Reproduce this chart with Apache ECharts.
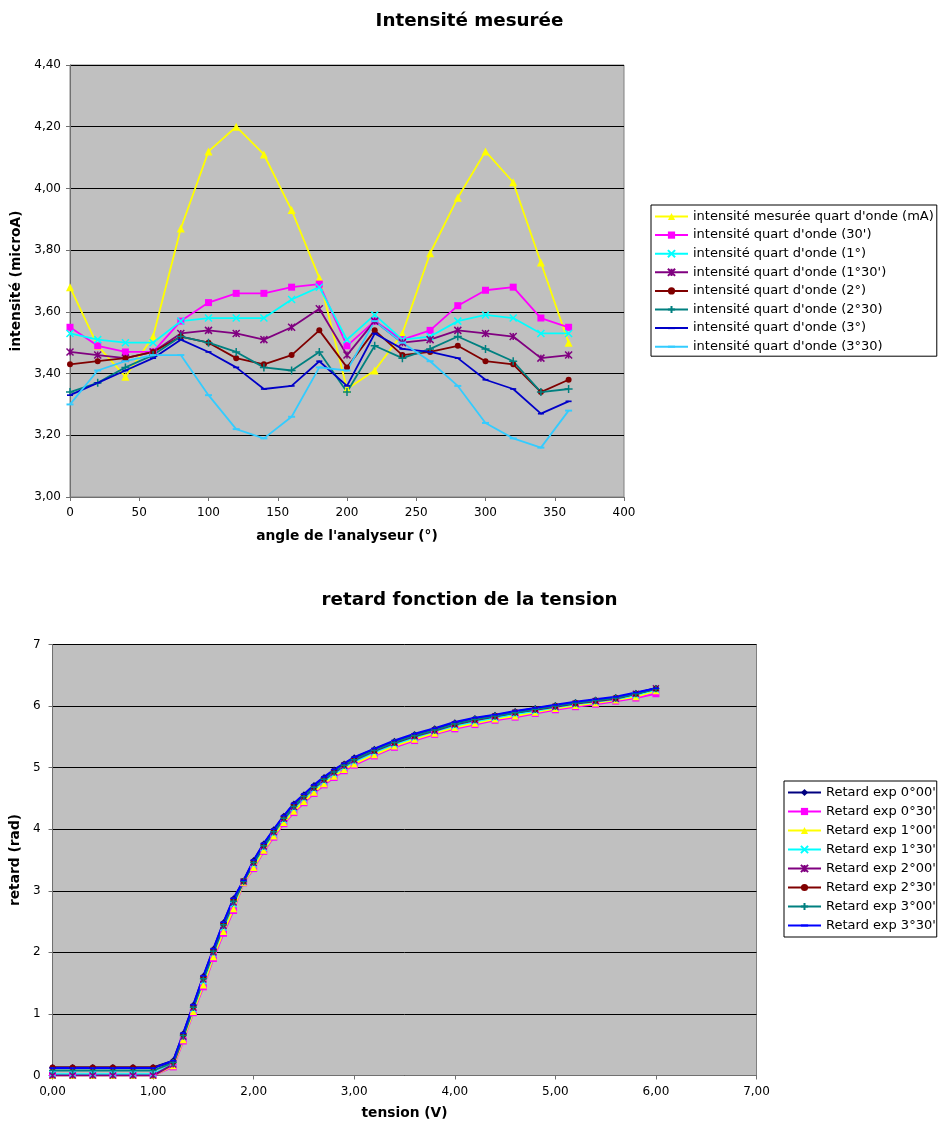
<!DOCTYPE html>
<html><head><meta charset="utf-8">
<script src="https://cdn.jsdelivr.net/npm/echarts@6/dist/echarts.min.js"></script>
<style>html,body{margin:0;padding:0;background:#fff}#c{width:939px;height:1126px}</style>
</head><body><div id="c"></div>
<script>
// ---------- Chart 1 : Intensité mesurée ----------
const angles = [0,20,40,60,80,100,120,140,160,180,200,220,240,260,280,300,320,340,360];
const iMesuree = [3.68,3.49,3.39,3.52,3.87,4.12,4.20,4.11,3.93,3.71,3.35,3.41,3.53,3.79,3.97,4.12,4.02,3.76,3.50];
const i30  = [3.55,3.49,3.47,3.47,3.57,3.63,3.66,3.66,3.68,3.69,3.49,3.57,3.51,3.54,3.62,3.67,3.68,3.58,3.55];
const i1   = [3.53,3.51,3.50,3.50,3.57,3.58,3.58,3.58,3.64,3.68,3.51,3.59,3.51,3.52,3.57,3.59,3.58,3.53,3.53];
const i130 = [3.47,3.46,3.45,3.47,3.53,3.54,3.53,3.51,3.55,3.61,3.46,3.57,3.50,3.51,3.54,3.53,3.52,3.45,3.46];
const i2   = [3.43,3.44,3.45,3.47,3.52,3.50,3.45,3.43,3.46,3.54,3.42,3.54,3.46,3.47,3.49,3.44,3.43,3.34,3.38];
const i230 = [3.34,3.37,3.42,3.46,3.52,3.50,3.47,3.42,3.41,3.47,3.34,3.49,3.45,3.48,3.52,3.48,3.44,3.34,3.35];
const i3   = [3.33,3.37,3.41,3.45,3.51,3.47,3.42,3.35,3.36,3.44,3.36,3.53,3.48,3.47,3.45,3.38,3.35,3.27,3.31];
const i330 = [3.30,3.41,3.44,3.46,3.46,3.33,3.22,3.19,3.26,3.42,3.41,3.57,3.50,3.44,3.36,3.24,3.19,3.16,3.28];
const topNames = ["intensité mesurée quart d'onde (mA)","intensité quart d'onde (30')","intensité quart d'onde (1°)","intensité quart d'onde (1°30')","intensité quart d'onde (2°)","intensité quart d'onde (2°30)","intensité quart d'onde (3°)","intensité quart d'onde (3°30)"];

// ---------- Chart 2 : retard fonction de la tension ----------
const tensions = [0,0.2,0.4,0.6,0.8,1.0,1.2,1.3,1.4,1.5,1.6,1.7,1.8,1.9,2.0,2.1,2.2,2.3,2.4,2.5,2.6,2.7,2.8,2.9,3.0,3.2,3.4,3.6,3.8,4.0,4.2,4.4,4.6,4.8,5.0,5.2,5.4,5.6,5.8,6.0];
const r0000 = [0.13,0.13,0.13,0.13,0.13,0.13,0.24,0.68,1.14,1.61,2.05,2.48,2.87,3.16,3.49,3.76,3.99,4.21,4.41,4.56,4.71,4.84,4.96,5.06,5.16,5.30,5.43,5.54,5.63,5.73,5.80,5.85,5.91,5.96,6.01,6.06,6.10,6.14,6.21,6.29];
const r0030 = [0,0,0,0,0,0,0.14,0.56,1.02,1.44,1.90,2.31,2.68,3.13,3.36,3.64,3.87,4.09,4.27,4.43,4.58,4.72,4.84,4.95,5.04,5.19,5.33,5.44,5.54,5.63,5.70,5.77,5.82,5.88,5.94,5.99,6.03,6.08,6.13,6.20];
const r0100 = [0,0,0,0,0,0,0.16,0.58,1.04,1.47,1.93,2.34,2.71,3.14,3.38,3.66,3.89,4.11,4.29,4.45,4.60,4.74,4.86,4.97,5.06,5.21,5.35,5.46,5.56,5.65,5.72,5.79,5.84,5.90,5.96,6.01,6.05,6.10,6.15,6.25];
const r0130 = [0.02,0.02,0.02,0.02,0.02,0.02,0.19,0.62,1.08,1.53,1.98,2.40,2.78,3.15,3.43,3.70,3.93,4.15,4.34,4.50,4.65,4.78,4.90,5.01,5.10,5.25,5.38,5.49,5.59,5.68,5.75,5.81,5.87,5.92,5.98,6.03,6.07,6.11,6.18,6.27];
const r0200 = [0,0,0,0,0,0,0.18,0.63,1.10,1.56,2.00,2.43,2.81,3.15,3.45,3.72,3.95,4.17,4.36,4.52,4.67,4.80,4.92,5.03,5.12,5.27,5.40,5.51,5.60,5.70,5.77,5.83,5.89,5.94,5.99,6.04,6.08,6.12,6.20,6.29];
const r0230 = [0.13,0.13,0.13,0.13,0.13,0.13,0.22,0.66,1.12,1.59,2.03,2.46,2.85,3.16,3.47,3.74,3.97,4.19,4.39,4.54,4.69,4.82,4.94,5.05,5.14,5.28,5.41,5.52,5.62,5.71,5.78,5.84,5.90,5.95,6.00,6.05,6.09,6.13,6.20,6.28];
const r0300 = [0.08,0.08,0.08,0.08,0.08,0.08,0.21,0.65,1.11,1.57,2.02,2.45,2.83,3.15,3.46,3.73,3.96,4.18,4.37,4.53,4.68,4.81,4.93,5.04,5.13,5.28,5.41,5.52,5.61,5.71,5.78,5.84,5.89,5.95,6.00,6.05,6.09,6.13,6.20,6.28];
const r0330 = [0.12,0.12,0.12,0.12,0.12,0.12,0.24,0.69,1.15,1.62,2.06,2.49,2.88,3.17,3.50,3.77,4.00,4.22,4.42,4.57,4.72,4.85,4.97,5.07,5.17,5.31,5.44,5.55,5.64,5.74,5.81,5.86,5.92,5.97,6.02,6.07,6.11,6.15,6.22,6.29];
const botNames = ["Retard exp 0°00'","Retard exp 0°30'","Retard exp 1°00'","Retard exp 1°30'","Retard exp 2°00'","Retard exp 2°30'","Retard exp 3°00'","Retard exp 3°30'"];

// ---------- build ----------
const F = '"DejaVu Sans", Verdana, sans-serif';
const fr2 = v => v.toFixed(2).replace('.', ',');
const zip = (xs, ys) => xs.map((x, i) => [x, ys[i]]);
const SYM_X = 'path://M0,0L10,10M10,0L0,10';
const SYM_AST = 'path://M0,0L10,10M10,0L0,10M5,0L5,10';
const SYM_PLUS = 'path://M5,0L5,10M0,5L10,5';
// square bounding box, only a thin horizontal bar drawn (short dash marker)
const SYM_DASH = 'path://M0,0M10,10M0,3.6L10,3.6L10,6.4L0,6.4Z';

function mk(name, xs, ys, color, symbol, size, g, lw, bw) {
  return {
    name, type: 'line', xAxisIndex: g, yAxisIndex: g, data: zip(xs, ys),
    symbol, symbolSize: size, showSymbol: true, showAllSymbol: true,
    lineStyle: { color, width: lw }, color,
    itemStyle: { color, borderColor: color, borderWidth: bw },
    emphasis: { disabled: true }, animation: false
  };
}

const axisLineStyle = { show: true, lineStyle: { color: '#707070', width: 1 } };
const tick = { show: true, inside: false, length: 4, lineStyle: { color: '#707070' } };
const lbl = { fontFamily: F, fontSize: 12, color: '#000' };
const nameStyle = { fontFamily: F, fontSize: 13.8, fontWeight: 'bold', color: '#000' };
const titleStyle = { fontFamily: F, fontSize: 18.3, fontWeight: 'bold', color: '#000' };

const topData = [iMesuree, i30, i1, i130, i2, i230, i3, i330];
const topColors = ['#FFFF00', '#FF00FF', '#00FFFF', '#800080', '#800000', '#008080', '#0000C8', '#33CCFF'];
const topSyms = ['triangle', 'rect', SYM_X, SYM_AST, 'circle', SYM_PLUS, SYM_DASH, SYM_DASH];
const topSizes = [8, 7, 7, 7, 6, 8, 6, 7];
const topBw = [0, 0, 1.5, 1.5, 0, 1.5, 0, 0];

const botData = [r0000, r0030, r0100, r0130, r0200, r0230, r0300, r0330];
const botColors = ['#000080', '#FF00FF', '#FFFF00', '#00FFFF', '#800080', '#800000', '#008080', '#0000FF'];
const botSyms = ['diamond', 'rect', 'triangle', SYM_X, SYM_AST, 'circle', SYM_PLUS, SYM_DASH];
const botSizes = [7, 7, 7, 6, 6, 6, 7, 6];
const botBw = [0, 0, 0, 1.5, 1.5, 0, 1.5, 0];

const series = [];
topNames.forEach((n, i) => series.push(mk(n, angles, topData[i], topColors[i], topSyms[i], topSizes[i], 0, 1.8, topBw[i])));
botNames.forEach((n, i) => series.push(mk(n, tensions, botData[i], botColors[i], botSyms[i], botSizes[i], 1, 2, botBw[i])));

const chart = echarts.init(document.getElementById('c'), null, { renderer: 'canvas' });
chart.setOption({
  backgroundColor: '#fff',
  animation: false,
  title: [
    { text: 'Intensité mesurée', left: 'center', top: 7, textStyle: titleStyle },
    { text: 'retard fonction de la tension', left: 'center', top: 586, textStyle: titleStyle }
  ],
  legend: [
    { data: topNames, orient: 'vertical', left: 651, top: 205, itemWidth: 33, itemHeight: 9, itemGap: 5.6,
      padding: [5, 3, 3, 3], borderColor: '#000', borderWidth: 1, backgroundColor: '#fff',
      textStyle: { fontFamily: F, fontSize: 13, color: '#000' }, selectedMode: false },
    { data: botNames, orient: 'vertical', left: 784, top: 781, itemWidth: 33, itemHeight: 9, itemGap: 6,
      padding: [5, 1, 5, 3], borderColor: '#000', borderWidth: 1, backgroundColor: '#fff',
      textStyle: { fontFamily: F, fontSize: 13, color: '#000' }, selectedMode: false }
  ],
  grid: [
    { left: 70, top: 65, width: 554, height: 432, show: true, backgroundColor: '#C0C0C0', borderColor: '#808080', borderWidth: 1 },
    { left: 49.5, top: 644.5, width: 707, height: 431, show: true, backgroundColor: '#C0C0C0', borderColor: '#808080', borderWidth: 1 }
  ],
  xAxis: [
    { type: 'value', gridIndex: 0, min: 0, max: 400, interval: 50,
      name: "angle de l'analyseur (°)", nameLocation: 'middle', nameGap: 32, nameTextStyle: nameStyle,
      axisLine: axisLineStyle, axisTick: tick, splitLine: { show: false },
      axisLabel: Object.assign({ margin: 10 }, lbl) },
    { type: 'value', gridIndex: 1, min: 0, max: 7, interval: 1,
      name: 'tension (V)', nameLocation: 'middle', nameGap: 31, nameTextStyle: nameStyle,
      axisLine: axisLineStyle, axisTick: tick, splitLine: { show: false },
      axisLabel: Object.assign({ margin: 10, formatter: v => fr2(v) }, lbl) }
  ],
  yAxis: [
    { type: 'value', gridIndex: 0, min: 3, max: 4.4, interval: 0.2,
      name: 'intensité (microA)', nameLocation: 'middle', nameGap: 41, nameTextStyle: nameStyle,
      axisLine: axisLineStyle, axisTick: tick,
      splitLine: { show: true, lineStyle: { color: '#000', width: 1 } },
      axisLabel: Object.assign({ margin: 9, formatter: v => fr2(v) }, lbl) },
    { type: 'value', gridIndex: 1, min: 0, max: 7, interval: 1,
      name: 'retard (rad)', nameLocation: 'middle', nameGap: 20, nameTextStyle: nameStyle,
      axisLine: axisLineStyle, axisTick: tick,
      splitLine: { show: true, lineStyle: { color: '#000', width: 1 } },
      axisLabel: Object.assign({ margin: 12 }, lbl) }
  ],
  series
});
</script>
</body></html>
